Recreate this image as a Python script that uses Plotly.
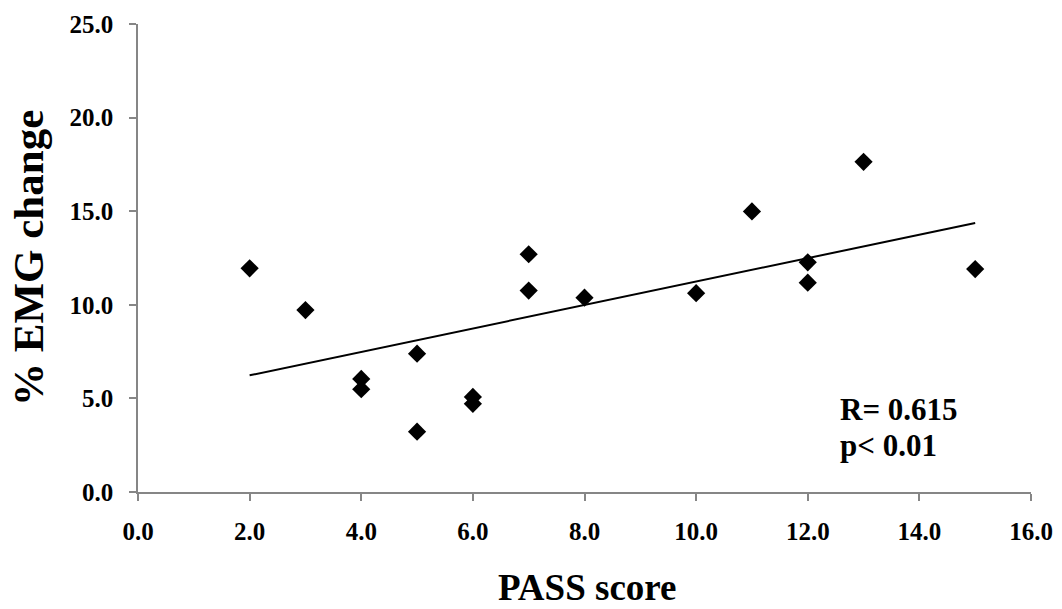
import numpy as np
import plotly.graph_objects as go

# Data
pass_score = [2, 3, 4, 4, 5, 5, 6, 6, 7, 7, 8, 10, 11, 12, 12, 13, 15]
emg_change = [11.95, 9.72, 6.04, 5.49, 7.39, 3.22, 5.08, 4.71, 12.70, 10.76,
              10.38, 10.62, 14.99, 12.27, 11.18, 17.64, 11.91]

x_ticks = [0, 2, 4, 6, 8, 10, 12, 14, 16]
y_ticks = [0, 5, 10, 15, 20, 25]
x_title = "PASS score"
y_title = "% EMG change"
stats_lines = ["R= 0.615", "p< 0.01"]

# Linear regression trend line (derived from the data)
slope, intercept = np.polyfit(pass_score, emg_change, 1)
trend_x = [min(pass_score), max(pass_score)]
trend_y = [slope * v + intercept for v in trend_x]

FONT = "Liberation Serif, Times New Roman, serif"
AXIS_COLOR = "#868686"
ML, MR, MT, MB = 138, 31, 24, 117
W, H = 1062, 609
PW, PH = W - ML - MR, H - MT - MB


def px_x(p):
    return (p - ML) / PW


def px_y(p):
    return (H - MB - p) / PH


fig = go.Figure()
fig.add_trace(go.Scatter(
    x=trend_x, y=trend_y, mode="lines",
    line=dict(color="black", width=2), showlegend=False, hoverinfo="skip"))
fig.add_trace(go.Scatter(
    x=pass_score, y=emg_change, mode="markers",
    marker=dict(symbol="diamond", size=14, color="black"),
    showlegend=False))

axis_common = dict(
    showgrid=False, zeroline=False, automargin=False,
    showline=True, linecolor=AXIS_COLOR, linewidth=1.5,
    ticks="outside", ticklen=7, tickcolor=AXIS_COLOR, tickwidth=1.5,
    tickformat=".1f",
    tickfont=dict(family=FONT, size=25, color="black", weight="bold"),
)

fig.update_layout(
    width=W, height=H,
    margin=dict(l=ML, r=MR, t=MT, b=MB),
    paper_bgcolor="white", plot_bgcolor="white",
    font=dict(family=FONT, color="black"),
    xaxis=dict(range=[0, 16], tickvals=x_ticks, ticklabelstandoff=9,
               **axis_common),
    yaxis=dict(range=[0, 25], tickvals=y_ticks, ticklabelstandoff=11,
               **axis_common),
    annotations=[
        dict(text="<b>" + x_title + "</b>", xref="paper", yref="paper",
             x=px_x(587), y=px_y(587), xanchor="center", yanchor="middle",
             showarrow=False, font=dict(family=FONT, size=37, color="black")),
        dict(text="<b>" + y_title + "</b>", xref="paper", yref="paper",
             x=px_x(28), y=px_y(258), xanchor="center", yanchor="middle",
             textangle=-90,
             showarrow=False, font=dict(family=FONT, size=43, color="black")),
        dict(text="<b>" + stats_lines[0] + "</b>", xref="paper", yref="paper",
             x=px_x(838), y=px_y(409), xanchor="left", yanchor="middle",
             showarrow=False, font=dict(family=FONT, size=31, color="black")),
        dict(text="<b>" + stats_lines[1] + "</b>", xref="paper", yref="paper",
             x=px_x(838), y=px_y(445), xanchor="left", yanchor="middle",
             showarrow=False, font=dict(family=FONT, size=31, color="black")),
    ],
)

fig.write_html(
    "out.html",
    config={"displayModeBar": False},
    post_script="document.body.style.margin='0';document.body.style.padding='0';",
)
